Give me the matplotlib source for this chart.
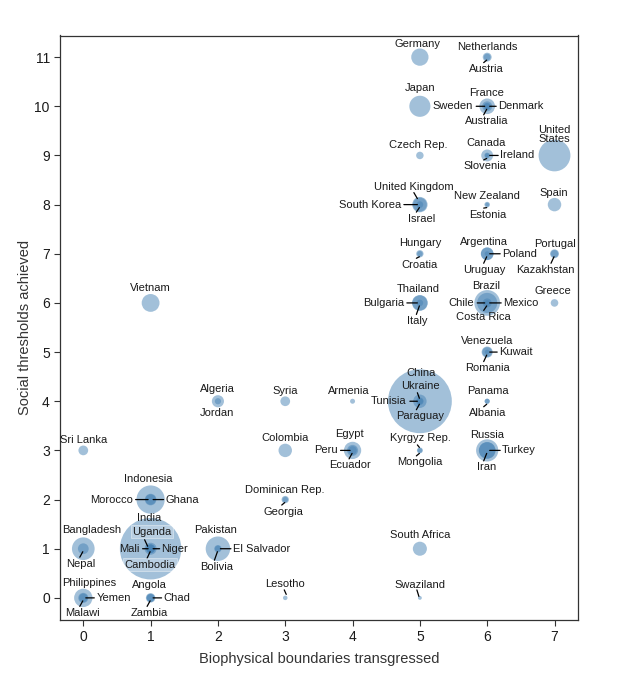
import matplotlib
matplotlib.use("Agg")
import matplotlib.pyplot as plt
import matplotlib.transforms as mtransforms
import numpy as np

plt.rcParams['font.family'] = ['Liberation Sans', 'DejaVu Sans']

# ---------------- data ----------------
countries = [
    "Sri Lanka", "Bangladesh", "Nepal", "Philippines", "Yemen", "Malawi",
    "Vietnam", "Indonesia", "Morocco", "Ghana", "India", "Uganda", "Mali", "Niger",
    "Cambodia", "Angola", "Chad", "Zambia",
    "Algeria", "Jordan", "Pakistan", "El Salvador", "Bolivia",
    "Syria", "Colombia", "Dominican Rep.", "Georgia", "Lesotho",
    "Armenia", "Egypt", "Peru", "Ecuador",
    "Germany", "Japan", "Czech Rep.", "United Kingdom", "South Korea", "Israel",
    "Hungary", "Croatia", "Thailand", "Bulgaria", "Italy", "China", "Ukraine",
    "Tunisia", "Paraguay", "Kyrgyz Rep.", "Mongolia", "South Africa", "Swaziland",
    "Netherlands", "Austria", "France", "Sweden", "Denmark", "Australia", "Canada",
    "Ireland", "Slovenia", "New Zealand", "Estonia", "Argentina", "Poland", "Uruguay",
    "Brazil", "Chile", "Mexico", "Costa Rica", "Venezuela", "Kuwait", "Romania",
    "Panama", "Albania", "Russia", "Turkey", "Iran",
    "United States", "Spain", "Portugal", "Kazakhstan", "Greece",
]
boundaries = [
    0, 0, 0, 0, 0, 0,
    1, 1, 1, 1, 1, 1, 1, 1,
    1, 1, 1, 1,
    2, 2, 2, 2, 2,
    3, 3, 3, 3, 3,
    4, 4, 4, 4,
    5, 5, 5, 5, 5, 5,
    5, 5, 5, 5, 5, 5, 5,
    5, 5, 5, 5, 5, 5,
    6, 6, 6, 6, 6, 6, 6,
    6, 6, 6, 6, 6, 6, 6,
    6, 6, 6, 6, 6, 6, 6,
    6, 6, 6, 6, 6,
    7, 7, 7, 7, 7,
]
thresholds = [
    3, 1, 1, 0, 0, 0,
    6, 2, 2, 2, 1, 1, 1, 1,
    1, 0, 0, 0,
    4, 4, 1, 1, 1,
    4, 3, 2, 2, 0,
    4, 3, 3, 3,
    11, 10, 9, 8, 8, 8,
    7, 7, 6, 6, 6, 4, 4,
    4, 4, 3, 3, 1, 0,
    11, 11, 10, 10, 10, 10, 9,
    9, 9, 8, 8, 7, 7, 7,
    6, 6, 6, 6, 5, 5, 5,
    4, 4, 3, 3, 3,
    9, 8, 7, 7, 6,
]
population_millions = [
    20.9, 150, 27, 94, 23, 15,
    88, 242, 32, 25, 1241, 35, 16, 16,
    14.3, 19.6, 11.5, 13.5,
    36, 6.2, 177, 6.2, 10,
    21, 46, 10, 4.5, 2.2,
    3.1, 82, 29, 15,
    82, 128, 10.5, 63, 50, 7.8,
    10, 4.4, 67, 7.4, 60, 1344, 45.7,
    10.7, 6.6, 5.5, 2.8, 51, 1.2,
    16.7, 8.4, 65, 9.4, 5.6, 22.6, 34.5,
    4.6, 2.05, 4.4, 1.34, 40.8, 38.5, 3.4,
    197, 17.3, 115, 4.7, 29.3, 2.8, 21.4,
    3.6, 3.2, 143, 74, 75,
    312, 46.2, 10.6, 16.6, 11,
]
x_ticks = [0, 1, 2, 3, 4, 5, 6, 7]
y_ticks = list(range(0, 12))

# ---------------- label layout (pixel offsets, alignment, leader line) ----------------
C, L, R = "center", "right", "left"
label_layout = {
    "Germany": (-2, 13, C, False), "Netherlands": (0, 10, C, False),
    "Austria": (-1, -12, C, True), "Japan": (0, 18, C, False),
    "France": (-1, 13, C, False), "Sweden": (-14, 0, L, True),
    "Denmark": (11, 0, R, True), "Australia": (0, -15, C, True),
    "Czech Rep.": (-2, 10, C, False), "Canada": (-1, 12, C, False),
    "Ireland": (13, 0, R, True), "Slovenia": (-2, -11, C, True),
    "United States": (0, 21, C, False), "United Kingdom": (-6, 18, C, True),
    "South Korea": (-19, 0, L, True), "Israel": (2, -14, C, True),
    "New Zealand": (0, 9, C, False), "Estonia": (1, -10, C, True),
    "Spain": (-1, 12, C, False), "Hungary": (0, 11, C, False),
    "Croatia": (0, -11, C, True), "Argentina": (-3, 12, C, False),
    "Poland": (15, 0, R, True), "Uruguay": (-3, -16, C, True),
    "Portugal": (0, 10, C, False), "Kazakhstan": (-9, -16, C, True),
    "Vietnam": (0, 15, C, False), "Thailand": (-2, 14, C, False),
    "Bulgaria": (-16, 0, L, True), "Italy": (-3, -18, C, True),
    "Brazil": (-1, 17, C, False), "Chile": (-13, 0, L, True),
    "Mexico": (16, 0, R, True), "Costa Rica": (-4, -14, C, True),
    "Greece": (-2, 12, C, False), "Venezuela": (0, 11, C, False),
    "Kuwait": (12, 0, R, True), "Romania": (0, -16, C, True),
    "China": (1, 28, C, False), "Ukraine": (1, 15, C, True),
    "Tunisia": (-13, 0, L, True), "Paraguay": (0, -15, C, True),
    "Syria": (0, 10, C, False), "Armenia": (-4, 10, C, False),
    "Panama": (1, 10, C, False), "Albania": (0, -12, C, True),
    "Sri Lanka": (0, 10, C, False), "Colombia": (0, 12, C, False),
    "Egypt": (-3, 16, C, False), "Peru": (-15, 0, L, True),
    "Ecuador": (-3, -15, C, True), "Kyrgyz Rep.": (1, 12, C, True),
    "Mongolia": (0, -12, C, True), "Russia": (0, 15, C, False),
    "Turkey": (15, 0, R, True), "Iran": (-1, -17, C, True),
    "Indonesia": (-2, 21, C, False), "Morocco": (-18, 0, L, True),
    "Ghana": (15, 0, R, True), "India": (-1, 31, C, False),
    "Uganda": (1, 17, C, True), "Mali": (-11, 0, L, True),
    "Niger": (11, 0, R, True), "Cambodia": (-1, -16, C, True),
    "Bangladesh": (8, 19, C, False), "Nepal": (-3, -15, C, True),
    "Pakistan": (-2, 19, C, False), "El Salvador": (15, 0, R, True),
    "Bolivia": (-1, -18, C, True), "Philippines": (6, 15, C, False),
    "Yemen": (13, 0, R, True), "Malawi": (-1, -15, C, True),
    "Angola": (-1, 13, C, False), "Chad": (13, 0, R, True),
    "Zambia": (-1, -15, C, True), "Dominican Rep.": (0, 10, C, False),
    "Georgia": (-2, -12, C, True), "Lesotho": (0, 14, C, True),
    "South Africa": (0, 14, C, False), "Swaziland": (0, 13, C, True),
    "Algeria": (-1, 12, C, False), "Jordan": (-1, -12, C, False),
}
# explicit leader segments (pixel offsets from the point) where the default differs
leader_override = {
    "United Kingdom": ((-2.5, 6), (-6, 12)),
    "Uganda": ((-3, 2.5), (-6, 9)),
    "Lesotho": ((1, 3.5), (-1, 8)),
    "Swaziland": ((-1, 1.5), (-3, 8)),
}
boxed_labels = {"Uganda", "Cambodia"}
display_names = {"United States": "United\nStates"}


def leader_segment(dx, dy, ha):
    if ha == L:            # label on the left of the point
        return (dx + 3, 0), (-2.5, 0)
    if ha == R:            # label on the right of the point
        return (2.5, 0), (dx - 2, 0)
    if dy < 0:             # label below
        return (-0.5, -3), (-3.5, dy + 6.5)
    return (-0.5, 3), (-2.5, dy - 6.5)   # label above


# ---------------- figure ----------------
DPI = 100
fig = plt.figure(figsize=(6.35, 6.82), dpi=DPI)
ax = fig.add_axes([60 / 635, 1 - 620 / 682, (578 - 60) / 635, (620 - 35.5) / 682])

pop = np.array(population_millions, dtype=float)
radius_px = 1.0 + 0.844 * np.sqrt(pop)
sizes = (2 * radius_px * 72 / DPI) ** 2

ax.scatter(boundaries, thresholds, s=sizes, color="steelblue", alpha=0.5,
           linewidths=0, zorder=2)

text_color = "#1a1a1a"
for name, bx, ty in zip(countries, boundaries, thresholds):
    dx, dy, ha, leader = label_layout[name]
    kw = dict(xy=(bx, ty), xytext=(dx, dy), textcoords="offset pixels",
              ha=ha, va="center", fontsize=8, color=text_color, zorder=5,
              linespacing=0.95, multialignment="center")
    if name in boxed_labels:
        kw["bbox"] = dict(boxstyle="square,pad=0.12", facecolor=(1, 1, 1, 0.25),
                          edgecolor=(1, 1, 1, 0.45), linewidth=0.6)
    ax.annotate(display_names.get(name, name), **kw)
    if leader:
        (sx, sy), (ex, ey) = leader_override.get(name, leader_segment(dx, dy, ha))
        start = mtransforms.offset_copy(ax.transData, fig=fig, x=sx, y=sy, units="dots")
        ax.annotate("", xy=(bx, ty), xycoords=start,
                    xytext=(ex - sx, ey - sy), textcoords="offset pixels",
                    arrowprops=dict(arrowstyle="-", color="black", lw=0.9,
                                    shrinkA=0, shrinkB=0),
                    zorder=4)

ax.set_xlim(-0.346, 7.349)
ax.set_ylim(-0.45, 11.44)
ax.set_xticks(x_ticks)
ax.set_yticks(y_ticks)
ax.tick_params(direction="out", length=4.3, width=0.8, colors="#333333",
               labelsize=10, labelcolor="#1a1a1a", pad=3)
for sp in ax.spines.values():
    sp.set_color("#333333")
    sp.set_linewidth(0.9)

ax.set_xlabel("Biophysical boundaries transgressed", fontsize=10.5, color="#333333",
              labelpad=6)
ax.set_ylabel("Social thresholds achieved", fontsize=10.5, color="#333333",
              labelpad=2)

fig.savefig("out.png", dpi=DPI)
